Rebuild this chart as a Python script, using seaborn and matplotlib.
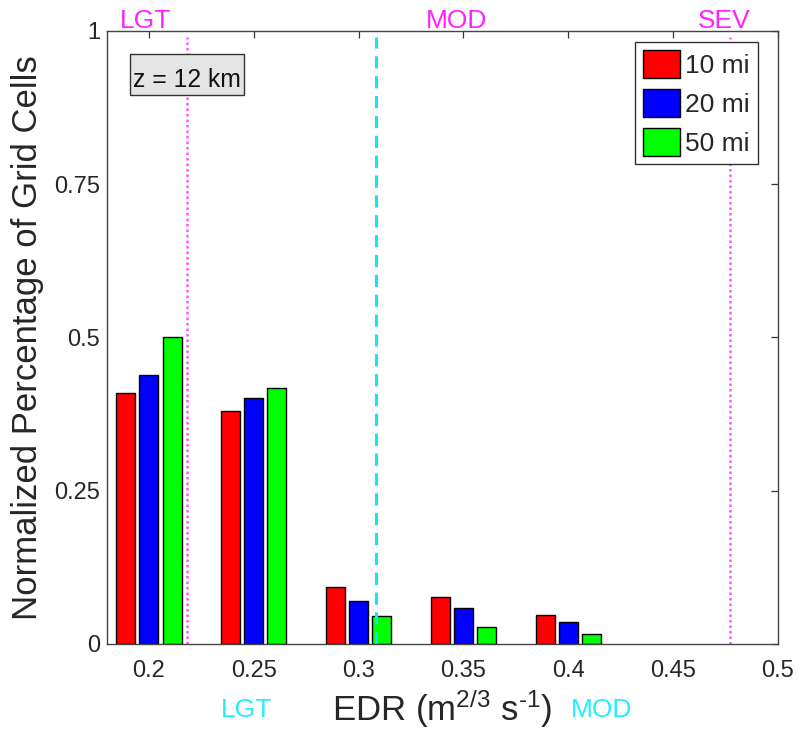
import matplotlib
matplotlib.use("Agg")
import matplotlib.pyplot as plt
from matplotlib.patches import Patch, Rectangle
import seaborn as sns
import pandas as pd

# EDR bin centres and normalized fraction of grid cells per search radius
edr_bins = [0.20, 0.25, 0.30, 0.35, 0.40]
pct_10mi = [0.410, 0.380, 0.093, 0.077, 0.047]
pct_20mi = [0.438, 0.402, 0.070, 0.058, 0.036]
pct_50mi = [0.500, 0.417, 0.045, 0.027, 0.016]
radius_labels = ["10 mi", "20 mi", "50 mi"]
radius_colors = ["#ff0000", "#0000ff", "#00ff00"]

# Turbulence thresholds (EDR) and category labels
upper_thresholds = [0.218, 0.477]          # magenta dotted
lower_threshold = 0.3085                    # cyan dashed
upper_cats = ["LGT", "MOD", "SEV"]
upper_cat_x = [0.1986, 0.3467, 0.4743]
lower_cats = ["LGT", "MOD"]
lower_cat_x = [0.2467, 0.4157]

xticks = [0.2, 0.25, 0.3, 0.35, 0.4, 0.45, 0.5]
yticks = [0, 0.25, 0.5, 0.75, 1]
ytick_labels = ["0", "0.25", "0.5", "0.75", "1"]

rows = []
for lab, vals in zip(radius_labels, [pct_10mi, pct_20mi, pct_50mi]):
    for e, v in zip(edr_bins, vals):
        rows.append({"EDR": e, "pct": v, "radius": lab})
df = pd.DataFrame(rows)

sns.set_theme(style="white")
plt.rcParams["font.family"] = ["Liberation Sans", "DejaVu Sans"]
plt.rcParams["mathtext.fontset"] = "custom"
plt.rcParams["mathtext.rm"] = "Liberation Sans"
plt.rcParams["mathtext.it"] = "Liberation Sans:italic"
plt.rcParams["mathtext.default"] = "rm"

fig = plt.figure(figsize=(7.99, 7.29), dpi=100)
ax = fig.add_axes([0.1339, 0.1166, 0.9737 - 0.1339, 0.9575 - 0.1166])

palette = dict(zip(radius_labels, radius_colors))
sns.barplot(data=df, x="EDR", y="pct", hue="radius", hue_order=radius_labels,
            palette=palette, native_scale=True, width=0.664, gap=0.18,
            edgecolor="black", linewidth=1.0, saturation=1, legend=False,
            errorbar=None, ax=ax)

for t in upper_thresholds:
    ax.axvline(t, ymax=0.99, color="#ff55ff", linestyle=(0, (1, 1.2)), linewidth=1.8, zorder=1)
ax.axvline(lower_threshold, ymax=0.99, color="#10e6f8", linestyle=(0, (4, 2.5)),
           linewidth=2.2, zorder=1)

ax.set_xlim(0.18, 0.5)
ax.set_ylim(0, 1)
ax.set_xticks(xticks)
ax.set_xticklabels([f"{v:g}" for v in xticks])
ax.set_yticks(yticks)
ax.set_yticklabels(ytick_labels)
ax.tick_params(axis="both", direction="in", length=5, width=0.9, color="#333333",
               labelsize=17, top=True, right=True)
ax.tick_params(axis="x", pad=11.5)
ax.tick_params(axis="y", pad=5)
for s in ax.spines.values():
    s.set_visible(True)
    s.set_color("#444444")
    s.set_linewidth(1.0)

ax.set_xlabel("EDR (m$^{2/3}$ s$^{\u2010 1}$)", fontsize=25, labelpad=4)
ax.set_ylabel("Normalized Percentage of Grid Cells", fontsize=25, labelpad=7)

trans = ax.get_xaxis_transform()
for lab, x in zip(upper_cats, upper_cat_x):
    ax.text(x, 1.005, lab, transform=trans, ha="center", va="baseline",
            color="#ff22ff", fontsize=19)
for lab, x in zip(lower_cats, lower_cat_x):
    ax.text(x, -0.119, lab, transform=trans, ha="center", va="baseline",
            color="#22eeff", fontsize=19, clip_on=False)

# annotation box with the altitude
ax.add_patch(Rectangle((0.0343, 0.8956), 0.2042 - 0.0343, 0.9625 - 0.8956,
                       transform=ax.transAxes, facecolor="#e4e4e4",
                       edgecolor="#333333", linewidth=1.0, zorder=4))
ax.text(0.119, 0.909, "z = 12 km", transform=ax.transAxes, ha="center", va="baseline",
        fontsize=17.8, color="#111111", zorder=5)

handles = [Patch(facecolor=c, edgecolor="black", linewidth=1.0) for c in radius_colors]
leg = ax.legend(handles, radius_labels, loc="upper right", bbox_to_anchor=(0.970, 0.982),
                fontsize=19, frameon=True, fancybox=False, framealpha=1,
                edgecolor="#333333", handlelength=1.4, handleheight=1.25,
                handletextpad=0.2, labelspacing=0.42, borderpad=0.3, borderaxespad=0)
leg.get_frame().set_linewidth(1.0)

fig.savefig("out.png", dpi=100)
